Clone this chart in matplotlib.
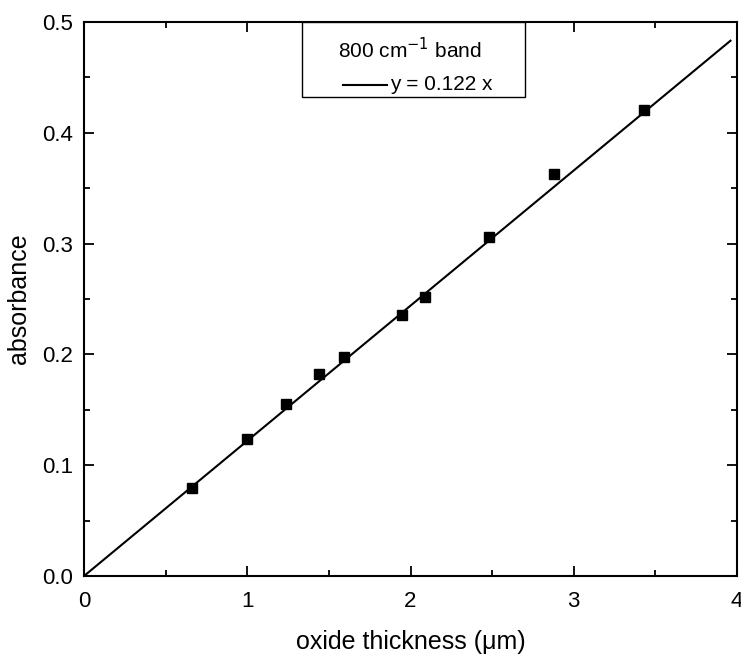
import matplotlib.pyplot as plt
from matplotlib.ticker import MultipleLocator
from matplotlib.patches import Rectangle
from matplotlib.lines import Line2D

plt.rcParams['font.family'] = ['Liberation Sans', 'DejaVu Sans']

# measured absorbance of the 800 cm-1 band vs oxide thickness
thickness = [0.66, 1.00, 1.24, 1.44, 1.59, 1.945, 2.09, 2.48, 2.88, 3.43]
absorbance = [0.079, 0.124, 0.155, 0.182, 0.198, 0.236, 0.252, 0.306, 0.363, 0.421]

slope = 0.122
fit_x = [0.0, 3.96]
fit_y = [slope * v for v in fit_x]

fig = plt.figure(figsize=(7.41, 6.61), dpi=100)
ax = fig.add_axes([0.1134, 0.1286, 0.8812, 0.8381])

ax.plot(thickness, absorbance, 's', color='black', markersize=7, zorder=3)
ax.plot(fit_x, fit_y, '-', color='black', linewidth=1.5)

ax.set_xlim(0, 4)
ax.set_ylim(0, 0.5)
ax.xaxis.set_major_locator(MultipleLocator(1))
ax.xaxis.set_minor_locator(MultipleLocator(0.5))
ax.yaxis.set_major_locator(MultipleLocator(0.1))
ax.yaxis.set_minor_locator(MultipleLocator(0.05))
ax.xaxis.set_major_formatter(plt.FuncFormatter(lambda v, p: "%d" % v))
ax.yaxis.set_major_formatter(plt.FuncFormatter(lambda v, p: "%.1f" % v))

ax.tick_params(which='both', direction='in', top=True, right=True, width=1.3,
               labelsize=16)
ax.tick_params(axis='x', pad=11)
ax.tick_params(axis='y', pad=8)
ax.tick_params(which='major', length=7)
ax.tick_params(which='minor', length=4)
for s in ax.spines.values():
    s.set_linewidth(1.5)

ax.set_xlabel("oxide thickness (\u03bcm)", fontsize=18, labelpad=13)
ax.set_ylabel("absorbance", fontsize=18, labelpad=8)

# legend box drawn by hand so the entry sits centred under the title
ax.add_patch(Rectangle((0.334, 0.865), 0.341, 0.135, transform=ax.transAxes,
                       facecolor='white', edgecolor='black', linewidth=1.0,
                       zorder=4))
ax.text(0.4995, 0.935, "800 cm$^{-1}$ band", transform=ax.transAxes,
        ha='center', va='baseline', fontsize=15, zorder=5)
ax.add_line(Line2D([0.397, 0.464], [0.886, 0.886], transform=ax.transAxes,
                   color='black', linewidth=1.5, zorder=5))
ax.text(0.468, 0.877, "y = 0.122 x", transform=ax.transAxes,
        ha='left', va='baseline', fontsize=15, zorder=5)

fig.savefig("out.png", dpi=100)
